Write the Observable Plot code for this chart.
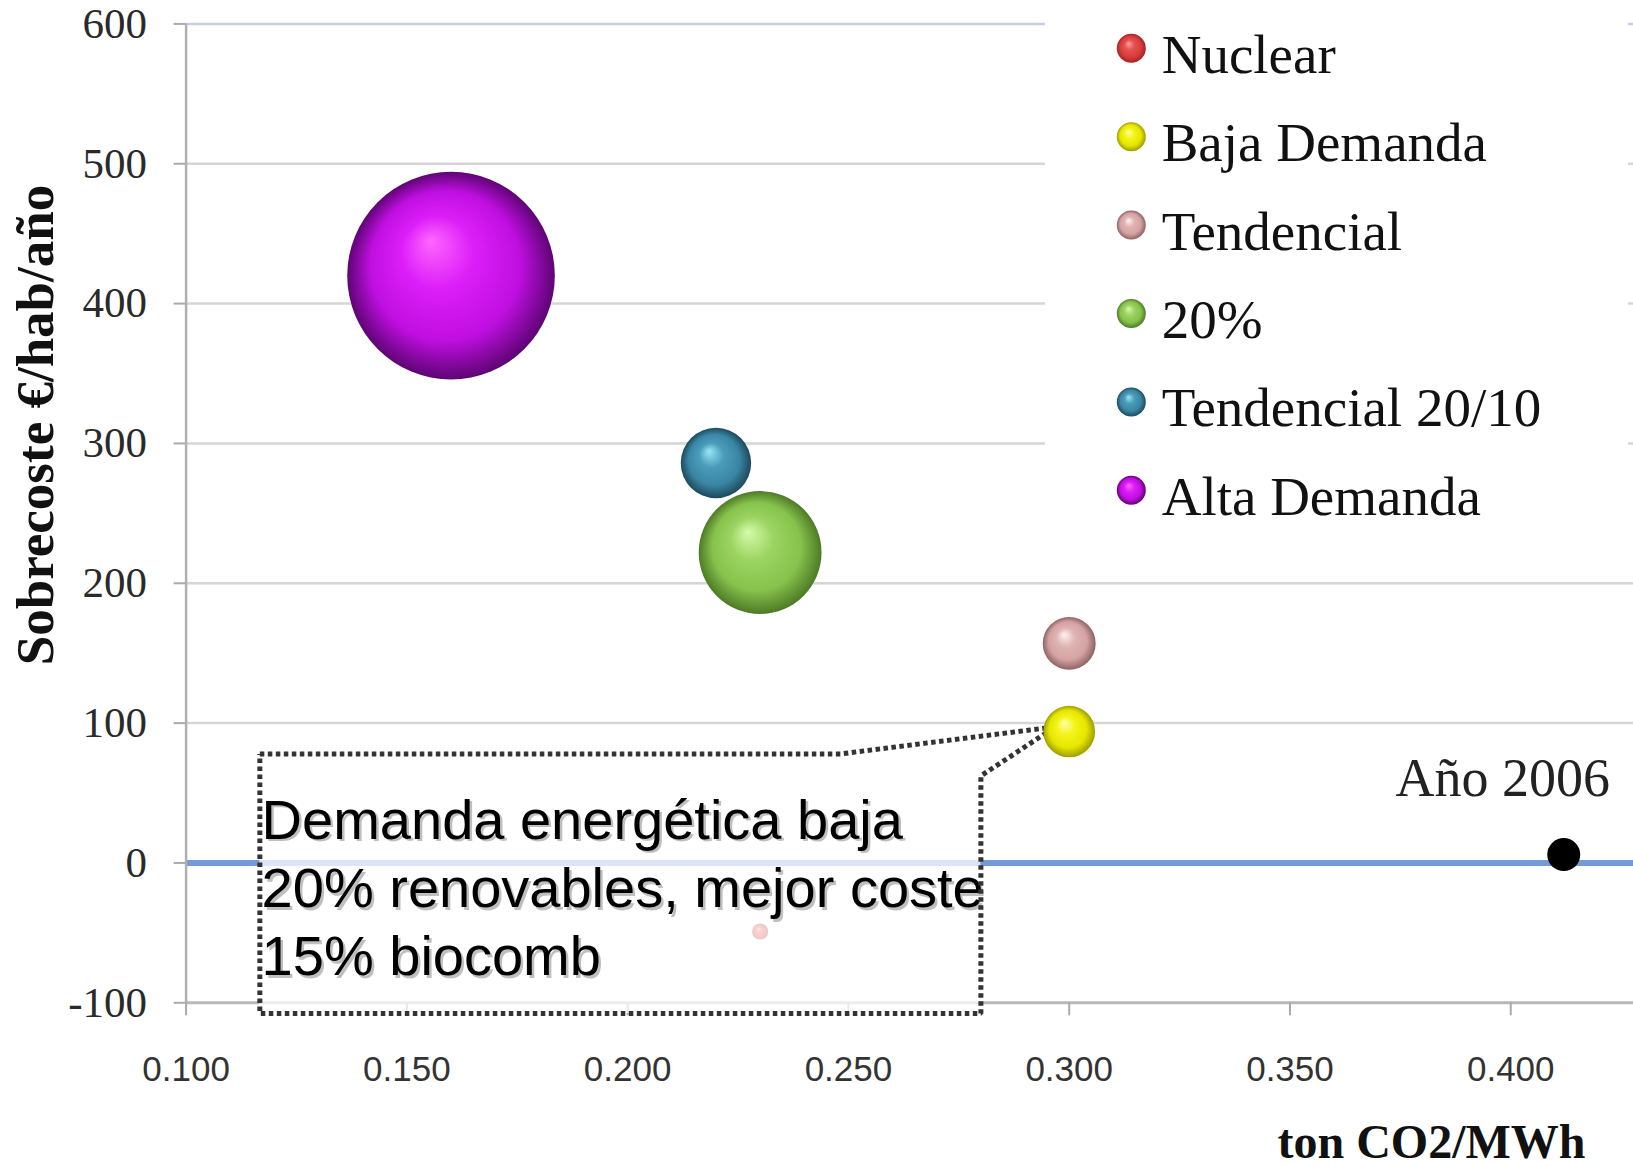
<!DOCTYPE html>
<html><head><meta charset="utf-8">
<script src="https://cdn.jsdelivr.net/npm/d3@7"></script>
<script src="https://cdn.jsdelivr.net/npm/@observablehq/plot@0.6"></script>
<style>
html,body{margin:0;padding:0;background:#fff;overflow:hidden}
#wrap{position:relative;width:1633px;height:1167px}
</style></head><body>
<svg width="0" height="0" style="position:absolute"><defs id="grads"></defs></svg>
<div id="wrap"></div>
<script>
// ---- data ----
const scenarios = ["Nuclear", "Baja Demanda", "Tendencial", "20%", "Tendencial 20/10", "Alta Demanda"];
const co2 = [0.23, 0.30, 0.30, 0.23, 0.22, 0.16];          // ton CO2/MWh
const sobrecoste = [-49, 94, 157, 222, 286, 420];          // €/hab/año
const bubbleSize = [0.6, 6.2, 6.5, 35, 11.5, 100];         // relative bubble size
const refLabel = ["Año 2006"];
const refCo2 = [0.412];
const refCost = [6];
const xTicks = [0.10, 0.15, 0.20, 0.25, 0.30, 0.35, 0.40];
const yTicks = [-100, 0, 100, 200, 300, 400, 500, 600];
const noteText = ["Demanda energética baja", "20% renovables, mejor coste", "15% biocomb"];
// annotation callout (data units)
const noteBox = [{x1: 0.1167, x2: 0.2800, y1: -107.7, y2: 78}];
const noteOutline = [[0.1167, 78], [0.2482, 78], [0.2969, 97.4], [0.2800, 62.3], [0.2800, -107.7], [0.1167, -107.7], [0.1167, 78]];
const noteAnchor = [{x: 0.1171, y: 52}];

// ---- styles ----
const sphereColors = [
  ["#ff9c9c", "#e65050", "#d83c3c", "#a82222"],
  ["#ffffb0", "#f4f41a", "#e6e600", "#9e9e00"],
  ["#fff2f2", "#e0b4b4", "#d4a2a2", "#8e6262"],
  ["#d6fbaa", "#9cd462", "#86c24c", "#4e7a26"],
  ["#9ae6f8", "#4a9cba", "#3a86a4", "#1c4a5c"],
  ["#ff66ff", "#dc1ef8", "#bf0fe0", "#5e0474"]
];
const defs = d3.select("#grads");
sphereColors.forEach((c, i) => {
  const g = defs.append("radialGradient").attr("id", "sph" + i)
    .attr("cx", "50%").attr("cy", "50%").attr("r", "50%").attr("fx", "40%").attr("fy", "33%");
  [[0, c[0]], [0.35, c[1]], [0.72, c[2]], [1, c[3]]].forEach(([o, col]) =>
    g.append("stop").attr("offset", o).attr("stop-color", col));
});

const idx = d3.range(scenarios.length);
const nuclearIdx = idx.filter(i => scenarios[i] === "Nuclear");
const otherIdx = idx.filter(i => scenarios[i] !== "Nuclear");
const refIdx = d3.range(refLabel.length);

const chart = Plot.plot({
  width: 1633, height: 1167,
  marginLeft: 185.6, marginRight: 0, marginTop: 23.4, marginBottom: 164.7,
  x: {domain: [0.1, 0.4278]},
  y: {domain: [-100, 600]},
  r: {type: "sqrt", domain: [0, 100], range: [0, 103.8]},
  color: {type: "identity"},
  style: {fontFamily: "Liberation Serif", background: "white", overflow: "visible"},
  marks: [
    Plot.ruleY(yTicks.filter(v => v > -100 && v < 600), {stroke: "#d6d6d6", strokeWidth: 2.5}),
    Plot.ruleY(yTicks.filter(v => v === 600), {stroke: "#c9cde2", strokeWidth: 2.5}),
    Plot.ruleY([0], {stroke: "#739bd8", strokeWidth: 6}),
    Plot.ruleY(yTicks.filter(v => v === -100), {stroke: "#b8b8b8", strokeWidth: 3}),
    Plot.ruleX([0.1], {stroke: "#b0b0b0", strokeWidth: 2.5}),
    Plot.axisY(yTicks, {tickSize: 12, tickPadding: 27, tickFormat: d => String(d), stroke: "#aaaaaa", strokeWidth: 2, fill: "#2a2a2a",
      fontSize: 43, fontFamily: "Liberation Serif", label: null}),
    Plot.axisX(xTicks, {tickSize: 13, tickPadding: 40, tickFormat: d3.format(".3f"), stroke: "#aaaaaa", strokeWidth: 2,
      fill: "#333", fontSize: 35, fontFamily: "Liberation Sans", label: null}),
    // bubble behind the note
    Plot.dot(nuclearIdx, {x: i => co2[i], y: i => sobrecoste[i], r: i => bubbleSize[i], fill: i => `url(#sph${i})`}),
    // note box + callout
    Plot.rect(noteBox, {x1: "x1", x2: "x2", y1: "y1", y2: "y2", fill: "white", fillOpacity: 0.74}),
    Plot.text(noteAnchor, {x: "x", y: "y", text: () => noteText.join("\n"), textAnchor: "start", lineAnchor: "top",
      lineHeight: 1.22, fontSize: 56, fontFamily: "Liberation Sans", fill: "#000", fillOpacity: 0.25, dx: 2.5, dy: 2.5}),
    Plot.text(noteAnchor, {x: "x", y: "y", text: () => noteText.join("\n"), textAnchor: "start", lineAnchor: "top",
      lineHeight: 1.22, fontSize: 56, fontFamily: "Liberation Sans", fill: "#000"}),
    Plot.line(noteOutline, {x: d => d[0], y: d => d[1], stroke: "#333333", strokeWidth: 5,
      strokeDasharray: "4.5,3.5", strokeLinejoin: "miter", strokeLinecap: "butt"}),
    // scenario bubbles
    Plot.dot(otherIdx, {x: i => co2[i], y: i => sobrecoste[i], r: i => bubbleSize[i], fill: i => `url(#sph${i})`}),
    // 2006 reference
    Plot.dot(refIdx, {x: i => refCo2[i], y: i => refCost[i], r: 16.5, fill: "#000"}),
    Plot.text(refIdx, {x: i => refCo2[i], y: i => refCost[i], text: i => refLabel[i], dx: -61, dy: -76,
      lineAnchor: "middle", fontSize: 54, fontFamily: "Liberation Serif", fill: "#222"}),
    // axis titles
    Plot.text(["Sobrecoste €/hab/año"], {frameAnchor: "left", rotate: -90, dx: -150.2, dy: -88.4,
      textAnchor: "middle", lineAnchor: "middle", fontSize: 53, fontWeight: "bold", fontFamily: "Liberation Serif", fill: "#111"}),
    Plot.text(["ton CO2/MWh"], {frameAnchor: "bottom-right", dx: -202, dy: 140.3,
      textAnchor: "middle", lineAnchor: "middle", fontSize: 48, fontWeight: "bold", fontFamily: "Liberation Serif", fill: "#111"})
  ]
});
const wrap = document.getElementById("wrap");
wrap.appendChild(chart);

// legend overlay (covers gridlines like the original)
const leg = d3.create("svg").attr("width", 583).attr("height", 535)
  .style("position", "absolute").style("left", "1045px").style("top", "0px");
leg.append("rect").attr("width", 583).attr("height", 535).attr("fill", "white");
scenarios.forEach((s, i) => {
  const cy = 48.3 + i * 88.4;
  leg.append("circle").attr("cx", 86.3).attr("cy", cy).attr("r", 14.5).attr("fill", `url(#sph${i})`);
  leg.append("text").attr("x", 116.7).attr("y", cy + 24.4).text(s)
    .attr("font-family", "Liberation Serif").attr("font-size", 55).attr("fill", "#111");
});
wrap.appendChild(leg.node());
</script>
</body></html>
